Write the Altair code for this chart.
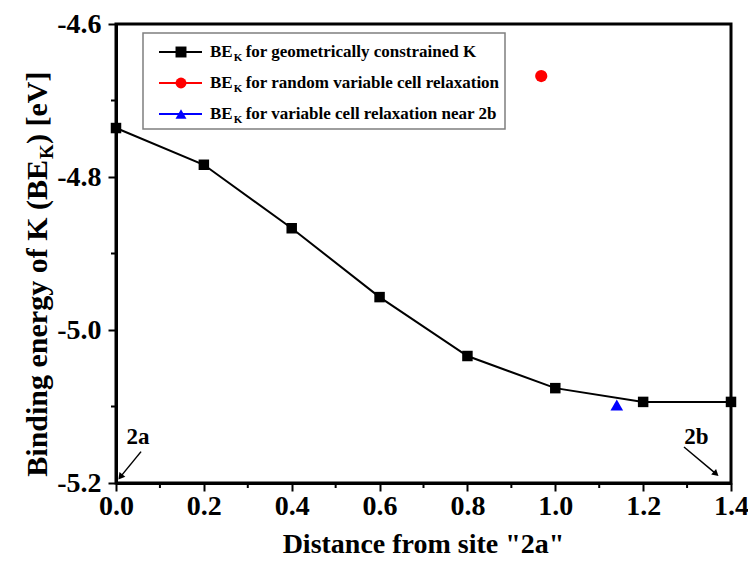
import altair as alt
import pandas as pd

# ---- data ----
distance = [0.0, 0.2, 0.4, 0.6, 0.8, 1.0, 1.2, 1.4]
be_constrained = [-4.736, -4.784, -4.867, -4.957, -5.034, -5.076, -5.094, -5.094]
random_x = [0.968]
random_y = [-4.668]
near2b_x = [1.14]
near2b_y = [-5.098]

x_ticks = [0.0, 0.2, 0.4, 0.6, 0.8, 1.0, 1.2, 1.4]
x_minor = [0.1, 0.3, 0.5, 0.7, 0.9, 1.1, 1.3]
y_ticks = [-4.6, -4.8, -5.0, -5.2]
y_minor = [-4.7, -4.9, -5.1]

x_title = 'Distance from site "2a"'
legend_labels = ["for geometrically constrained K",
                 "for random variable cell relaxation",
                 "for variable cell relaxation near 2b"]
legend_colors = ["#000000", "#ff0000", "#0000ff"]
legend_shapes = ["square", "circle", "triangle-up"]

annot_text = ["2a", "2b"]
annot_x = [0.05, 1.321]
annot_y = [-5.140, -5.140]
arrow_x1 = [0.057, 1.293]
arrow_y1 = [-5.159, -5.153]
arrow_x2 = [0.010, 1.366]
arrow_y2 = [-5.192, -5.188]
arrow_angle = [218, 131]

FONT = "Liberation Serif"
W, H = 615, 459
L = 108  # left padding

xs = alt.Scale(domain=[0, 1.4], nice=False, zero=False)
ys = alt.Scale(domain=[-5.2, -4.6], nice=False, zero=False)

main_df = pd.DataFrame({"x": distance, "y": be_constrained})
red_df = pd.DataFrame({"x": random_x, "y": random_y})
blue_df = pd.DataFrame({"x": near2b_x, "y": near2b_y})
xminor_df = pd.DataFrame({"x": x_minor})
yminor_df = pd.DataFrame({"y": y_minor})
ann_df = pd.DataFrame({"x": annot_x, "y": annot_y, "t": annot_text})
arr_df = pd.DataFrame({"x": arrow_x1, "y": arrow_y1, "x2": arrow_x2, "y2": arrow_y2, "a": arrow_angle})
one = pd.DataFrame({"k": [0]})

xaxis = alt.Axis(values=x_ticks, format=".1f", title=None,
                 labelFontSize=28, labelFont=FONT, labelFontWeight="bold",
                 labelColor="black", labelPadding=1, tickSize=8, tickWidth=2, tickColor="black",
                 domainColor="black", domainWidth=3, grid=False, labelFlush=False)
yaxis = alt.Axis(values=y_ticks,
                 labelExpr="datum.value < 0 ? '-' + format(-datum.value, '.1f') : format(datum.value, '.1f')",
                 title=None, labelFontSize=28, labelFont=FONT, labelFontWeight="bold",
                 labelColor="black", labelPadding=7, tickSize=8, tickWidth=2, tickColor="black",
                 domainColor="black", domainWidth=3, grid=False, labelFlush=False)

line = alt.Chart(main_df).mark_line(color="black", strokeWidth=2, clip=False).encode(
    x=alt.X("x:Q", scale=xs, axis=xaxis),
    y=alt.Y("y:Q", scale=ys, axis=yaxis),
)
squares = alt.Chart(main_df).mark_point(shape="square", filled=True, color="black",
                                        size=110, opacity=1, clip=False).encode(
    x=alt.X("x:Q", scale=xs, title=None), y=alt.Y("y:Q", scale=ys, title=None))
red = alt.Chart(red_df).mark_point(shape="circle", filled=True, color="#ff0000",
                                   size=150, opacity=1).encode(
    x=alt.X("x:Q", scale=xs, title=None), y=alt.Y("y:Q", scale=ys, title=None))
blue = alt.Chart(blue_df).mark_point(shape="triangle-up", filled=True, color="#0000ff",
                                     size=160, opacity=1).encode(
    x=alt.X("x:Q", scale=xs, title=None), y=alt.Y("y:Q", scale=ys, title=None))

xminor = alt.Chart(xminor_df).mark_rule(color="black", strokeWidth=2).encode(
    x=alt.X("x:Q", scale=xs, title=None), y=alt.value(H), y2=alt.value(H + 5))
yminor = alt.Chart(yminor_df).mark_rule(color="black", strokeWidth=2).encode(
    y=alt.Y("y:Q", scale=ys, title=None), x=alt.value(-5), x2=alt.value(0))

ann = alt.Chart(ann_df).mark_text(font=FONT, fontWeight="bold", fontSize=23, color="black").encode(
    x=alt.X("x:Q", scale=xs, title=None), y=alt.Y("y:Q", scale=ys, title=None), text="t:N")
arrows = alt.Chart(arr_df).mark_rule(color="black", strokeWidth=1.5).encode(
    x=alt.X("x:Q", scale=xs, title=None), y=alt.Y("y:Q", scale=ys, title=None),
    x2="x2:Q", y2="y2:Q")
heads = alt.Chart(arr_df).mark_point(shape="triangle-up", filled=True, color="black",
                                     size=55, opacity=1).encode(
    x=alt.X("x2:Q", scale=xs, title=None), y=alt.Y("y2:Q", scale=ys, title=None),
    angle=alt.Angle("a:Q", scale=None))

# ---- manual x title ----
xtitle = alt.Chart(one).mark_text(align="center", baseline="middle", font=FONT,
                                  fontWeight="bold", fontSize=28, color="black").encode(
    x=alt.value(W / 2), y=alt.value(H + 62), text=alt.value(x_title))

# ---- manual legend (subscripted K) ----
layers = []
layers.append(alt.Chart(one).mark_rect(fill="white", stroke="#7f7f7f", strokeWidth=1.5).encode(
    x=alt.value(27), x2=alt.value(389), y=alt.value(9), y2=alt.value(105)))
LF = 17
for i, (lab, col, shp) in enumerate(zip(legend_labels, legend_colors, legend_shapes)):
    yy = 28 + 31 * i
    layers.append(alt.Chart(one).mark_rule(color=col, strokeWidth=2).encode(
        x=alt.value(43), x2=alt.value(86), y=alt.value(yy)))
    layers.append(alt.Chart(one).mark_point(shape=shp, filled=True, color=col, size=120, opacity=1).encode(
        x=alt.value(65), y=alt.value(yy)))
    layers.append(alt.Chart(one).mark_text(align="left", baseline="middle", font=FONT,
                                           fontWeight="bold", fontSize=LF, color="black").encode(
        x=alt.value(94), y=alt.value(yy), text=alt.value("BE")))
    layers.append(alt.Chart(one).mark_text(align="left", baseline="middle", font=FONT,
                                           fontWeight="bold", fontSize=11, color="black").encode(
        x=alt.value(94 + 1.334 * LF + 1), y=alt.value(yy + 6), text=alt.value("K")))
    layers.append(alt.Chart(one).mark_text(align="left", baseline="middle", font=FONT,
                                           fontWeight="bold", fontSize=LF, color="black").encode(
        x=alt.value(94 + 1.334 * LF + 13), y=alt.value(yy), text=alt.value(lab)))

# ---- manual y title with subscript ----
TF = 30
J = 136
YX = -78
ytitle = [
    alt.Chart(one).mark_text(align="right", baseline="middle", angle=270, font=FONT,
                             fontWeight="bold", fontSize=TF, color="black").encode(
        x=alt.value(YX), y=alt.value(J), text=alt.value("Binding energy of K (BE")),
    alt.Chart(one).mark_text(align="left", baseline="middle", angle=270, font=FONT,
                             fontWeight="bold", fontSize=19, color="black").encode(
        x=alt.value(YX + 9), y=alt.value(J - 1), text=alt.value("K")),
    alt.Chart(one).mark_text(align="left", baseline="middle", angle=270, font=FONT,
                             fontWeight="bold", fontSize=TF, color="black").encode(
        x=alt.value(YX), y=alt.value(J - 16), text=alt.value(") [eV]")),
]

chart = alt.layer(line, squares, red, blue, xminor, yminor, arrows, heads, ann, xtitle,
                  *layers, *ytitle).properties(
    width=W, height=H,
    autosize=alt.AutoSizeParams(type="none"),
    padding={"left": L, "top": 16, "right": 17, "bottom": 80},
    background="white",
).configure_view(stroke="black", strokeWidth=3)

chart.save("out.html", embed_options={"renderer": "svg", "actions": False})
